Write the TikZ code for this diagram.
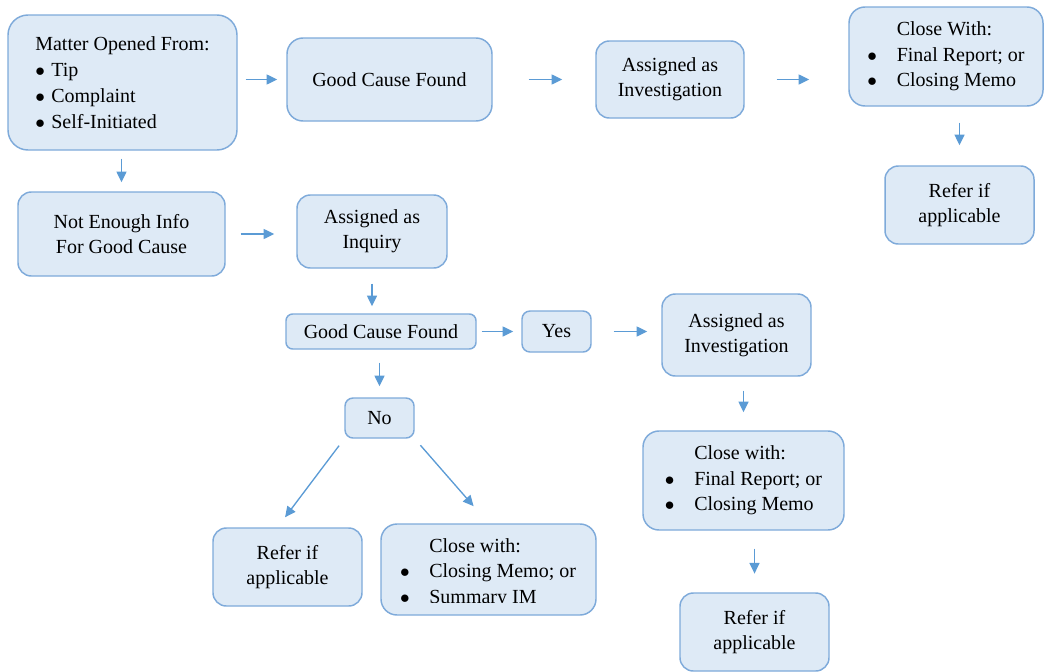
\documentclass[tikz,border=0pt]{standalone}
\usepackage{fontspec}
\setmainfont{Liberation Serif}
\usetikzlibrary{arrows.meta}

\definecolor{boxfill}{RGB}{222,234,246}
\definecolor{boxline}{RGB}{126,170,218}
\definecolor{flowblue}{RGB}{91,155,213}
\newcommand{\blt}[1][22pt]{\makebox[#1][l]{$\bullet$}}

\begin{document}
\begin{tikzpicture}[x=0.75pt,y=0.75pt,yscale=-1,xscale=1,
	stepbox/.style={draw=boxline, fill=boxfill, line width=1.1pt, rounded corners=10pt, inner sep=0pt, align=center, font=\fontsize{15pt}{19pt}\selectfont},
	boxtext/.style={inner sep=0pt, align=left, font=\fontsize{15pt}{19pt}\selectfont},
	flow/.style={draw=flowblue, line width=1pt, -{Triangle[length=8pt,width=7.5pt]}}]

	\useasboundingbox (0,0) rectangle (1044,671);

	%%TOP ROW---------------------------------------------
	\node[stepbox, minimum width=171.75pt, minimum height=101.25pt, rounded corners=15pt, align=left] (mat) at (122.5,82.5)
		{Matter Opened From:\\[0.5pt] \blt[12pt]Tip\\[0.5pt] \blt[12pt]Complaint\\[0.5pt] \blt[12pt]Self-Initiated};
	\node[stepbox, minimum width=153.75pt, minimum height=62.25pt, rounded corners=12pt] (gcfA) at (389.5,79.5) {Good Cause Found};
	\node[stepbox, minimum width=111pt, minimum height=57.75pt] (invA) at (670,79.5) {Assigned as\\Investigation};
	\node[stepbox, minimum width=145.5pt, minimum height=74.25pt, rounded corners=12pt, align=left] (closeA) at (946,56.5)
		{\hspace*{22pt}Close With:\\ \blt Final Report; or\\ \blt Closing Memo};
	\node[stepbox, minimum width=111.75pt, minimum height=58.5pt] (referA) at (959.5,205) {Refer if\\applicable};

	%%SECOND ROW------------------------------------------
	\node[stepbox, minimum width=155.25pt, minimum height=63pt] (nei) at (121.5,234) {Not Enough Info\\For Good Cause};
	\node[stepbox, minimum width=112.5pt, minimum height=54.75pt] (inq) at (372,231.5) {Assigned as\\Inquiry};

	%%DECISION--------------------------------------------
	\node[stepbox, minimum width=142.5pt, minimum height=26.25pt, rounded corners=5pt] (gcfB) at (381,331.5) {Good Cause Found};
	\node[stepbox, minimum width=51.75pt, minimum height=30.75pt, rounded corners=6pt] (yes) at (556.5,331.5) {Yes};
	\node[stepbox, minimum width=111.75pt, minimum height=61.5pt] (invB) at (736.5,335) {Assigned as\\Investigation};
	\node[stepbox, minimum width=51.75pt, minimum height=30pt, rounded corners=6pt] (no) at (379.5,418) {No};

	%%BOTTOM----------------------------------------------
	\node[stepbox, minimum width=150.75pt, minimum height=74.25pt, rounded corners=12pt, align=left] (closeB) at (743.5,480.5)
		{\hspace*{22pt}Close with:\\ \blt Final Report; or\\ \blt Closing Memo};
	\node[stepbox, minimum width=111.75pt, minimum height=58.5pt] (referC) at (754.5,632) {Refer if\\applicable};
	\node[stepbox, minimum width=111.75pt, minimum height=58.5pt] (referB) at (287.5,567) {Refer if\\applicable};
	\node[stepbox, minimum width=161.25pt, minimum height=68.25pt, rounded corners=12pt] (closeC) at (488.5,569.5) {};
	%last line of this box is cut off
	\begin{scope}
		\clip (381,524) rectangle (596,602);
		\node[boxtext] (closeCtext) at (488,573) {\hspace*{22pt}Close with:\\ \blt Closing Memo; or\\ \blt Summary IM};
	\end{scope}

	%%ARROWS----------------------------------------------
	\draw[flow, shorten <=6pt, shorten >=6.75pt] (mat.east |- gcfA.west) -- (gcfA.west);
	\draw[flow, shorten <=27pt, shorten >=24.75pt] (gcfA.east) -- (gcfA.east -| invA.west);
	\draw[flow, shorten <=24pt, shorten >=29.25pt] (invA.east) -- (invA.east -| closeA.west);
	\draw[flow, shorten <=12pt, shorten >=15pt] (referA.north |- closeA.south) -- (referA.north);
	\draw[flow, shorten <=6pt, shorten >=6.75pt] (nei.north |- mat.south) -- (nei.north);
	\draw[flow, shorten <=11.25pt, shorten >=16.5pt] (nei.east) -- (nei.east -| inq.west);
	\draw[flow, shorten <=11.25pt, shorten >=5.25pt] (inq.south) -- (inq.south |- gcfB.north);
	\draw[flow, shorten <=3.75pt, shorten >=6pt] (gcfB.east) -- (yes.west);
	\draw[flow, shorten <=16.5pt, shorten >=10.5pt] (yes.east) -- (yes.east -| invB.west);
	\draw[flow, shorten <=9.75pt, shorten >=8.25pt] (no.north |- gcfB.south) -- (no.north);
	\draw[flow, shorten <=6.5pt, shorten >=9.4pt] (no.south west) -- ([xshift=-7.5pt]referB.north);
	\draw[flow, shorten <=6.5pt, shorten >=17pt] (no.south east) -- (closeC.north);
	\draw[flow, shorten <=10.5pt, shorten >=13.5pt] (closeB.north |- invB.south) -- (closeB.north);
	\draw[flow, shorten <=13.5pt, shorten >=14pt] (referC.north |- closeB.south) -- (referC.north);

\end{tikzpicture}
\end{document}
